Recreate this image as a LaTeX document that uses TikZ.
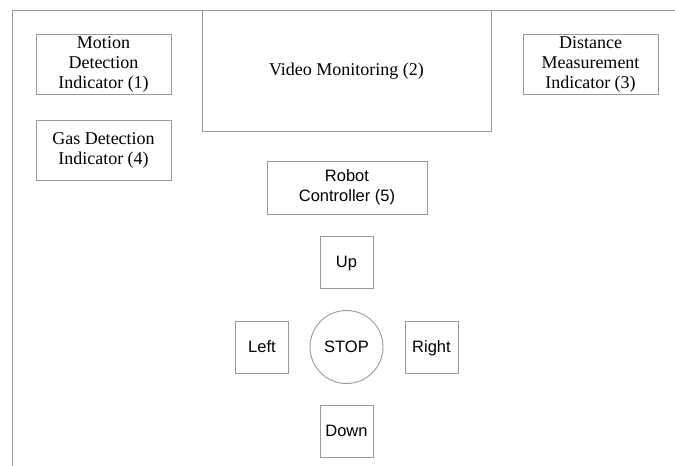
\documentclass[tikz,border=0pt]{standalone}
\usepackage{fontspec}
\setmainfont{Liberation Serif}
\setsansfont{Liberation Sans}
\usepackage{tikz}
\usepackage{xcolor}
\usetikzlibrary{positioning}
\definecolor{linegray}{gray}{0.6}

\begin{document}
\begin{tikzpicture}[x=1pt,y=-1pt,
    panel/.style={draw=linegray,line width=0.9pt,rectangle,inner sep=0pt,align=center,
      font=\rmfamily\fontsize{18}{20}\selectfont},
    ctrl/.style={draw=linegray,line width=0.9pt,rectangle,inner sep=0pt,align=center,
      font=\sffamily\fontsize{16.5}{20}\selectfont},
    key/.style={ctrl,minimum width=53pt,minimum height=52pt,text height=12pt,text depth=0.5pt}]
      \useasboundingbox (0,0) rectangle (675,466);
      \draw[linegray,line width=0.9pt] (12,466) -- (12,10) -- (675,10);
      \node[panel,minimum width=289pt,minimum height=121pt] (video) at (346.5,71) {Video Monitoring (2)};
      \node[panel,minimum width=135pt,minimum height=60pt] (motion) at (103.5,64) {Motion\\Detection\\Indicator (1)};
      \node[panel,minimum width=135pt,minimum height=60pt] (gas) at (103.5,150) {Gas Detection\\Indicator (4)};
      \node[panel,minimum width=135pt,minimum height=60pt] (dist) at (590.5,64) {Distance\\Measurement\\Indicator (3)};
      \node[ctrl,minimum width=160pt,minimum height=53pt] (robot) at (347,187.5) {Robot\\Controller (5)};
      \node[key] (up) at (346.5,262) {Up};
      \node[key] (left) at (262,347) {Left};
      \node[key] (right) at (431.5,347) {Right};
      \node[key] (down) at (346.5,431) {Down};
      \node[key,circle,minimum size=73pt] (stop) at (346.5,347) {STOP};
    \end{tikzpicture}
\end{document}
